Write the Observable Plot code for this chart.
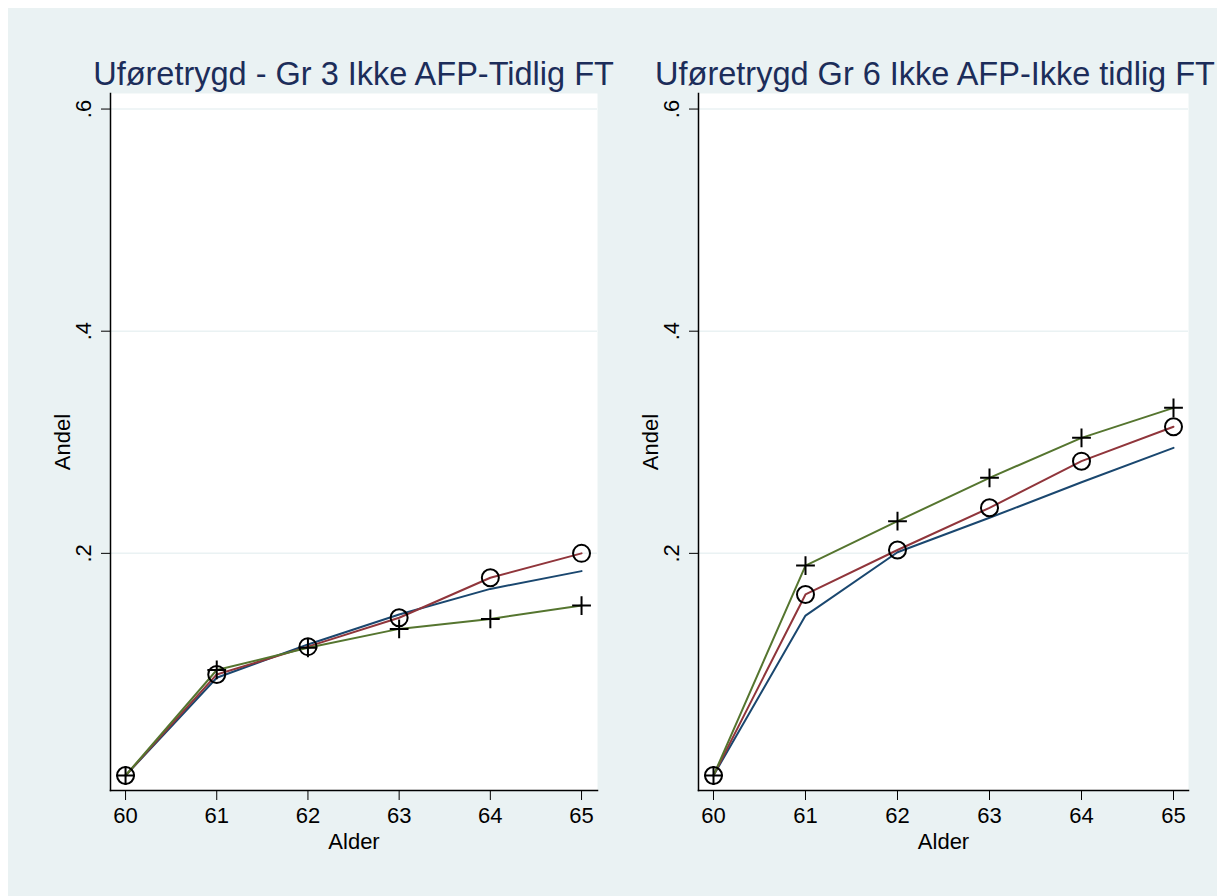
<!DOCTYPE html>
<html><head><meta charset="utf-8">
<script src="https://cdn.jsdelivr.net/npm/d3@7"></script>
<script src="https://cdn.jsdelivr.net/npm/@observablehq/plot@0.6"></script>
<style>
html,body{margin:0;padding:0;background:#fff;overflow:hidden;width:1217px;height:896px}
#bg{position:absolute;left:8px;top:8px;width:1209px;height:888px;background:#eaf2f3;overflow:hidden}
.title{position:absolute;top:50px;font-family:"Liberation Sans",Arial,sans-serif;font-size:32.5px;line-height:32px;color:#1c2d5a;white-space:nowrap;transform:translateX(-50%)}
.panel{position:absolute;top:82px}
</style></head>
<body>
<div id="bg"></div>
<script>
const ages = [60, 61, 62, 63, 64, 65];
const yTicks = [0.2, 0.4, 0.6];
const titles = ["Uføretrygd - Gr 3 Ikke AFP-Tidlig FT", "Uføretrygd Gr 6 Ikke AFP-Ikke tidlig FT"];
const xLabel = "Alder";
const yLabel = "Andel";
// Panel 1 (Gr 3)
const blue3  = [0, 0.088, 0.118, 0.145, 0.168, 0.184];
const red3   = [0, 0.091, 0.116, 0.142, 0.178, 0.200];
const green3 = [0, 0.095, 0.115, 0.132, 0.141, 0.153];
// Panel 2 (Gr 6)
const blue6  = [0, 0.144, 0.201, 0.232, 0.264, 0.295];
const red6   = [0, 0.163, 0.203, 0.241, 0.283, 0.314];
const green6 = [0, 0.189, 0.229, 0.268, 0.304, 0.331];

const colors = {blue: "#1a476f", red: "#90353b", green: "#55752f"};
const bg = document.getElementById("bg");

function rows(arr) { return ages.map((a, i) => ({age: a, v: arr[i]})); }

function panel({title, blue, red, green, xDomain, left, width, marginLeft, marginRight, titleShift}) {
  const height = 780;
  const marginTop = 3, marginBottom = 80;
  const chart = Plot.plot({
    width, height, marginTop, marginBottom, marginLeft, marginRight,
    style: {fontFamily: "'Liberation Sans', Arial, sans-serif", fontSize: "22px", color: "#000", background: "transparent", overflow: "visible"},
    x: {domain: xDomain},
    y: {domain: [-0.0135, 0.614]},
    marks: [
      Plot.frame({fill: "white", stroke: "none"}),
      Plot.gridY(yTicks, {stroke: "#eaf2f3", strokeOpacity: 1, strokeWidth: 1.5}),
      Plot.frame({anchor: "left", stroke: "#000", strokeWidth: 1.5}),
      Plot.frame({anchor: "bottom", stroke: "#000", strokeWidth: 1.5}),
      Plot.axisY(yTicks, {tickSize: 9, tickRotate: -90, tickPadding: 11, fontSize: 22,
        tickFormat: d => String(d).replace(/^0/, ""),
        label: yLabel, labelAnchor: "center", labelOffset: 56, labelArrow: "none"}),
      Plot.axisX(ages, {tickSize: 10, tickPadding: 7, fontSize: 22, tickFormat: d => String(d),
        label: xLabel, labelAnchor: "center", labelOffset: 58, labelArrow: "none"}),
      Plot.line(rows(blue), {x: "age", y: "v", stroke: colors.blue, strokeWidth: 2}),
      Plot.line(rows(red), {x: "age", y: "v", stroke: colors.red, strokeWidth: 2}),
      Plot.line(rows(green), {x: "age", y: "v", stroke: colors.green, strokeWidth: 2}),
      Plot.dot(rows(red), {x: "age", y: "v", r: 8.5, stroke: "#000", strokeWidth: 2, fill: "none"}),
      Plot.dot(rows(green), {x: "age", y: "v", symbol: "plus", r: 6.1, stroke: "#000", strokeWidth: 2})
    ]
  });
  const wrap = document.createElement("div");
  wrap.className = "panel";
  wrap.style.left = (left - 8) + "px";
  wrap.appendChild(chart);
  bg.appendChild(wrap);
  const t = document.createElement("div");
  t.className = "title";
  t.textContent = title;
  t.style.left = (left - 8 + marginLeft + (width - marginLeft - marginRight) / 2 + titleShift) + "px";
  bg.appendChild(t);
}

panel({title: titles[0], blue: blue3, red: red3, green: green3, xDomain: [59.835, 65.175],
  left: 8, width: 609, marginLeft: 102, marginRight: 20, titleShift: 0});
panel({title: titles[1], blue: blue6, red: red6, green: green6, xDomain: [59.837, 65.163],
  left: 617, width: 600, marginLeft: 81, marginRight: 29, titleShift: -8});
</script>
</body></html>
